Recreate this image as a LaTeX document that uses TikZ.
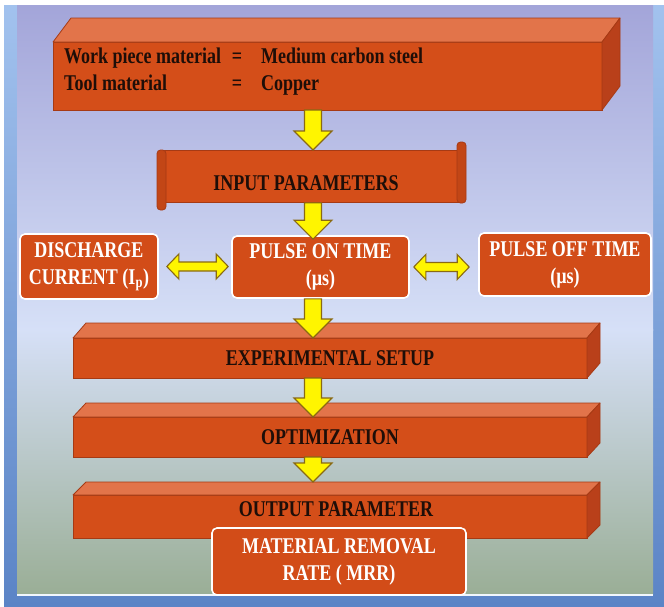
\documentclass[tikz,border=0pt]{standalone}
\usepackage{fontspec}
\setmainfont{Liberation Serif}
\newfontfamily\labfont[FakeStretch=0.8]{Liberation Serif}
\usetikzlibrary{calc}
\definecolor{frontc}{HTML}{D44E19}
\definecolor{topc}{HTML}{E2744A}
\definecolor{sidec}{HTML}{B9401A}
\definecolor{edgec}{HTML}{A63A14}
\definecolor{boxc}{HTML}{D24C18}
\definecolor{rollc}{HTML}{C24616}
\definecolor{txtc}{HTML}{1E0E08}
\definecolor{arrY}{HTML}{FFF500}
\definecolor{arrO}{HTML}{8A6A12}
\definecolor{frameT}{HTML}{A2C2EE}
\definecolor{frameB}{HTML}{5B84C6}
\definecolor{panA}{HTML}{A3A5D9}
\definecolor{panB}{HTML}{BCC3EA}
\definecolor{panC}{HTML}{D6E0F7}
\definecolor{panD}{HTML}{D3DDF0}
\definecolor{panE}{HTML}{9AAE96}
\tikzset{
  front/.style={fill=frontc, draw=edgec, line width=0.8pt, inner sep=0pt, outer sep=0pt},
  topface/.style={fill=topc, draw=edgec, line width=0.8pt, line join=round},
  sideface/.style={fill=sidec, draw=edgec, line width=0.8pt, line join=round},
  labf/.style={font=\labfont\bfseries\fontsize{22.5}{27}\selectfont},
  darktxt/.style={labf, text=txtc, inner sep=0pt},
  rbox/.style={labf, rounded corners=5pt, fill=boxc, draw=white, line width=1.6pt,
    text=white, align=center, inner sep=0pt},
  scrollbody/.style={fill=frontc, draw=edgec, line width=0.8pt, inner sep=0pt},
  roll/.style={fill=rollc, draw=edgec, line width=0.8pt, rounded corners=3.5pt},
  yarrow/.style={fill=arrY, draw=arrO, line width=1.1pt, line join=miter}
}
\newcommand{\prism}[7]{%
  \node[front, anchor=north west, minimum width=#4pt, minimum height=#5pt] (#1) at (#2,#3) {};
  \filldraw[topface] (#1.north west) -- ++(#6,-#7) -- ([shift={(#6,-#7)}]#1.north east) -- (#1.north east) -- cycle;
  \filldraw[sideface] (#1.north east) -- ++(#6,-#7) -- ([shift={(#6,-#7)}]#1.south east) -- (#1.south east) -- cycle;}
\newcommand{\downblk}[2]{%
  \draw[yarrow] let \p1=(#1), \p2=(#2) in
    ({\x1-8.5pt},\y1) -- ({\x1-8.5pt},{\y2+19pt}) -- ({\x1-19pt},{\y2+19pt}) -- (\x1,\y2)
    -- ({\x1+19pt},{\y2+19pt}) -- ({\x1+8.5pt},{\y2+19pt}) -- ({\x1+8.5pt},\y1) -- cycle;}
\newcommand{\dblblk}[2]{%
  \draw[yarrow] let \p1=(#1), \p2=(#2) in
    (\x1,\y1) -- ({\x1+12pt},{\y1+12.5pt}) -- ({\x1+12pt},{\y1+4.5pt}) -- ({\x2-12pt},{\y1+4.5pt})
    -- ({\x2-12pt},{\y1+12.5pt}) -- (\x2,\y1) -- ({\x2-12pt},{\y1-12.5pt}) -- ({\x2-12pt},{\y1-4.5pt})
    -- ({\x1+12pt},{\y1-4.5pt}) -- ({\x1+12pt},{\y1-12.5pt}) -- cycle;}
\begin{document}
\begin{tikzpicture}[x=1pt,y=-1pt]
\useasboundingbox (0,0) rectangle (664,606);
% background and frame
\fill[white] (0,0) rectangle (664,606);
\shade[top color=frameT, bottom color=frameB] (4,5) rectangle (664,606);
\shade[top color=panA, middle color=panB, bottom color=panC] (17,5) rectangle (653,330);
\shade[top color=panC, middle color=panD, bottom color=panE] (17,329.5) rectangle (653,594);
\fill[white!85!frameT] (17,594) rectangle (653,596);
\coordinate (axis) at (313,0);

% top prism
\prism{top}{53}{42}{549}{68}{18}{24}
\node[darktxt, anchor=base west] (w1) at (64,63) {Work piece material};
\node[darktxt, anchor=base] (e1) at (237,63) {=};
\node[darktxt, anchor=base west] (w2) at (261,63) {Medium carbon steel};
\node[darktxt, anchor=base west] (t1) at (64,90) {Tool material};
\node[darktxt, anchor=base] (e2) at (237,90) {=};
\node[darktxt, anchor=base west] (t2) at (261,90) {Copper};

% scroll
\node[scrollbody, anchor=north west, minimum width=300pt, minimum height=52pt] (inp) at (161,150) {};
\filldraw[roll] (157,150) rectangle (166,210);
\filldraw[roll] (457,142) rectangle (466,203);
\node[darktxt, anchor=base] (inpt) at (306,190) {INPUT PARAMETERS};

% middle row
\node[rbox, minimum width=138pt, minimum height=65pt] (dis) at (89,266.5) {DISCHARGE\\CURRENT (I\textsubscript{p})};
\node[rbox, minimum width=177pt, minimum height=62pt] (pon) at (320.5,267) {PULSE ON TIME\\(µs)};
\node[rbox, minimum width=172pt, minimum height=63pt] (pof) at (565,264.5) {PULSE OFF TIME\\(µs)};

% lower prisms
\prism{exp}{73}{338}{514}{40}{13}{15}
\node[darktxt] (expt) at (exp.center) {EXPERIMENTAL SETUP};
\prism{opt}{73}{417}{514}{40}{13}{14}
\node[darktxt] (optt) at (opt.center) {OPTIMIZATION};
\prism{out}{73}{495}{514}{43}{13}{13}
\node[darktxt, anchor=base] (outt) at (336,516) {OUTPUT PARAMETER};
\node[rbox, minimum width=254pt, minimum height=67pt] (mrr) at (339,561.5) {MATERIAL REMOVAL\\RATE ( MRR)};

% arrows
\downblk{top.south -| axis}{inp.north -| axis}
\downblk{inp.south -| axis}{[yshift=-4pt]pon.north -| axis}
\downblk{pon.south -| axis}{exp.north -| axis}
\downblk{exp.south -| axis}{opt.north -| axis}
\downblk{opt.south -| axis}{[yshift=13pt]out.north -| axis}
\dblblk{[xshift=8pt]dis.east}{[xshift=-3pt]pon.west}
\dblblk{[xshift=4pt]pon.east}{[xshift=-9pt]pof.west}
\end{tikzpicture}
\end{document}
